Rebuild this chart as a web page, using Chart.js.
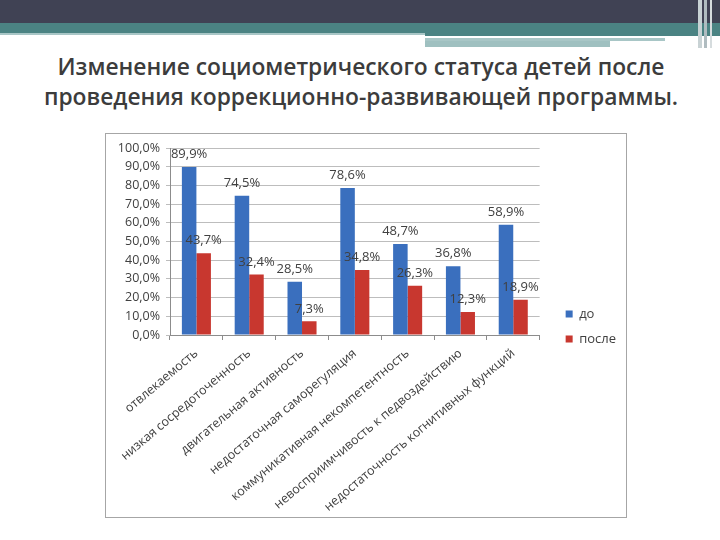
<!DOCTYPE html>
<html>
<head>
<meta charset="utf-8">
<script src="https://cdn.jsdelivr.net/npm/chart.js@4.4.0/dist/chart.umd.min.js"></script>
<style>
  body { margin: 0; background: #fff; }
  #page { position: relative; width: 720px; height: 540px; overflow: hidden; background: #fff; }
  .band { position: absolute; }
  #title {
    position: absolute; left: 0; top: 52px; width: 722px;
    text-align: center; font-family: "Open Sans", sans-serif; font-weight: 600;
    font-size: 22.8px; line-height: 30px; color: #3c3c3c;
  }
  #box {
    position: absolute; left: 105px; top: 133px; width: 520px; height: 383px;
    border: 1px solid #a6a6a6; background: #fff;
  }
</style>
</head>
<body>
<div id="page">
  <!-- header stripes -->
  <div class="band" style="left:0;top:0;width:720px;height:23px;background:#404254"></div>
  <div class="band" style="left:0;top:23px;width:720px;height:10px;background:#4b8383"></div>
  <div class="band" style="left:0;top:33px;width:425px;height:2px;background:#a8c6c6"></div>
  <div class="band" style="left:425px;top:33px;width:295px;height:3px;background:#4b8383"></div>
  <div class="band" style="left:425px;top:38px;width:240px;height:3px;background:#a8c6c6"></div>
  <div class="band" style="left:425px;top:41px;width:185px;height:6px;background:#9fc0c0"></div>
  <div class="band" style="left:698px;top:0;width:4px;height:48px;background:#c8d2d4"></div>
  <div class="band" style="left:704px;top:0;width:3px;height:48px;background:#b0bcc0"></div>
  <div class="band" style="left:710px;top:0;width:2px;height:48px;background:#d6dcde"></div>

  <div id="title">Изменение социометрического статуса детей после<br>проведения коррекционно-развивающей программы.</div>

  <div id="box"><canvas id="chart" width="520" height="383"></canvas></div>
</div>

<script>
// categories and values
const categories = [
  'отвлекаемость',
  'низкая сосредоточенность',
  'двигательная активность',
  'недостаточная саморегуляция',
  'коммуникативная некомпетентность',
  'невосприимчивость к педвоздействию',
  'недостаточность когнитивных функций'
];
const before = [89.9, 74.5, 28.5, 78.6, 48.7, 36.8, 58.9]; // до
const after = [43.7, 32.4, 7.3, 34.8, 26.3, 12.3, 18.9];   // после
const yTicks = [0, 10, 20, 30, 40, 50, 60, 70, 80, 90, 100];

function pct(v) {
  return v.toFixed(1).replace('.', ',') + '%';
}

// value labels over each bar
const valueLabels = {
  id: 'valueLabels',
  afterLayout(chart) {
    // legend sits a bit above the middle of the box
    chart.legend.top -= 6;
    chart.legend.bottom -= 6;
  },
  afterDatasetsDraw(chart) {
    const ctx = chart.ctx;
    ctx.save();
    ctx.font = '13px "Open Sans", sans-serif';
    ctx.fillStyle = '#404040';
    ctx.textAlign = 'center';
    ctx.textBaseline = 'bottom';
    chart.data.datasets.forEach(function (ds, i) {
      chart.getDatasetMeta(i).data.forEach(function (bar, j) {
        ctx.fillText(pct(ds.data[j]), bar.x, bar.y - 6);
      });
    });
    ctx.restore();
  }
};

Chart.defaults.font.family = '"Open Sans", sans-serif';
Chart.defaults.color = '#404040';

new Chart(document.getElementById('chart'), {
  type: 'bar',
  data: {
    labels: categories,
    datasets: [
      { label: 'до', data: before, backgroundColor: '#3a6fbe', categoryPercentage: 0.55, barPercentage: 1 },
      { label: 'после', data: after, backgroundColor: '#c8372f', categoryPercentage: 0.55, barPercentage: 1 }
    ]
  },
  options: {
    responsive: false,
    animation: false,
    layout: { padding: { top: 14, right: 0, left: 0, bottom: 0 } },
    plugins: {
      legend: {
        position: 'right',
        labels: { boxWidth: 7, boxHeight: 7, padding: 12, font: { size: 13 }, color: '#404040' }
      },
      tooltip: { enabled: false }
    },
    scales: {
      x: {
        grid: { offset: true, drawOnChartArea: false, tickLength: 5, color: '#8c8c8c' },
        border: { color: '#8c8c8c' },
        ticks: { autoSkip: false, minRotation: 40, maxRotation: 40, font: { size: 12.5 }, color: '#404040', padding: 6 },
        afterFit: function (s) { s.height = 182; }
      },
      y: {
        min: 0, max: 100,
        afterBuildTicks: function (s) { s.ticks = yTicks.map(function (v) { return { value: v }; }); },
        grid: { color: '#bdbdbd', tickLength: 4 },
        border: { color: '#8c8c8c' },
        ticks: { callback: function (v) { return pct(v); }, font: { size: 12.5 }, color: '#404040', padding: 6 },
        afterFit: function (s) { s.width = 64; }
      },
      gap: {
        type: 'linear', position: 'right', display: true,
        grid: { display: false }, border: { display: false }, ticks: { display: false },
        afterFit: function (s) { s.width = 14; }
      }
    }
  },
  plugins: [valueLabels]
});
</script>
</body>
</html>
